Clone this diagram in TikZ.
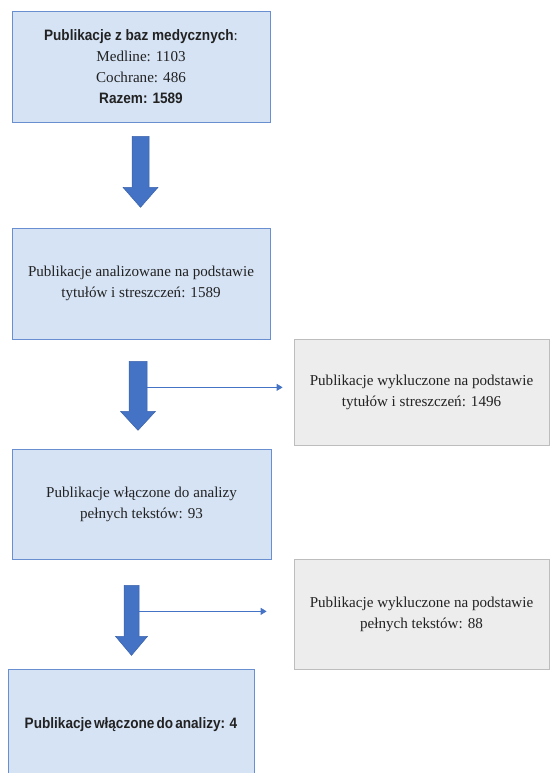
\documentclass[tikz,border=0pt]{standalone}
\usepackage{fontspec}
\setmainfont{Liberation Serif}
\newfontfamily\timesface{Liberation Serif}
\newfontfamily\narrowsans{Liberation Sans}[FakeStretch=0.90]
\usetikzlibrary{arrows.meta,positioning,calc}
\definecolor{stagefill}{HTML}{D5E3F5}
\definecolor{stageedge}{HTML}{6A8FD0}
\definecolor{exclfill}{HTML}{EDEDED}
\definecolor{excledge}{HTML}{BDBDBD}
\definecolor{arrowblue}{HTML}{4472C4}
\definecolor{arrowedge}{HTML}{3B63AA}
\definecolor{textgray}{HTML}{222222}
\tikzset{every picture/.style={line width=0.75pt}}
\tikzset{
    stagebox/.style={draw=stageedge, fill=stagefill, inner sep=0pt, align=center,
        text=textgray, font=\timesface\fontsize{15.1}{21}\selectfont},
    exclbox/.style={stagebox, draw=excledge, fill=exclfill},
    blockarrow/.style={draw=arrowedge, fill=arrowblue, line width=0.5pt},
    thinarrow/.style={draw=arrowblue, line width=0.8pt, -{Triangle[length=6pt,width=7pt]}},
    pics/downarrow/.style n args={4}{code={
        \filldraw[blockarrow] (-#1,0) -- (#1,0) -- (#1,-#3+#4) -- (#2,-#3+#4) -- (0,-#3)
            -- (-#2,-#3+#4) -- (-#1,-#3+#4) -- cycle;
        \coordinate (-side) at (#1,-26);
    }},
}
\newcommand{\boldnarrow}[1]{{\narrowsans\bfseries #1}}

\begin{document}
\begin{tikzpicture}[x=1pt, y=1pt]
    \useasboundingbox (0,0) rectangle (551,773);
    \clip (0,0) rectangle (551,773);
    % main stages
    \node[stagebox, minimum width=258pt, minimum height=111pt] (pub) at (141,706.5)
        {\boldnarrow{Publikacje z baz medycznych}:\\ Medline: 1103\\ Cochrane: 486\\ \boldnarrow{Razem: 1589}};
    \node[stagebox, minimum width=258pt, minimum height=111pt] (screen) at (141,489.5)
        {Publikacje analizowane na podstawie\\ tytułów i streszczeń: 1589};
    \node[stagebox, minimum width=259pt, minimum height=110pt] (full) at (141.5,269)
        {Publikacje włączone do analizy\\ pełnych tekstów: 93};
    \node[stagebox, minimum width=246pt, minimum height=111pt] (final) at (131,48.5)
        {\raisebox{3pt}{\boldnarrow{\spaceskip=0.14em Publikacje włączone do analizy:\hspace{0.3em}4}}};
    % excluded
    \node[exclbox, minimum width=255pt, minimum height=106pt] (excl1) at (421.5,381)
        {Publikacje wykluczone na podstawie\\ tytułów i streszczeń: 1496};
    \node[exclbox, minimum width=255pt, minimum height=110pt] (excl2) at (421.5,159)
        {Publikacje wykluczone na podstawie\\ pełnych tekstów: 88};
    % block arrows
    \pic (arr1) at ($(pub.south)+(-0.5,-14)$) {downarrow={8.5}{17.5}{71}{20}};
    \pic (arr2) at ($(screen.south)+(-3,-22)$) {downarrow={9}{17.5}{69}{19}};
    \pic (arr3) at ($(full.south)+(-10,-26)$) {downarrow={7.5}{16}{70}{19}};
    \draw[thinarrow, shorten >=11pt] (arr2-side) -- (arr2-side -| excl1.west);
    \draw[thinarrow, shorten >=27pt] (arr3-side) -- (arr3-side -| excl2.west);
\end{tikzpicture}
\end{document}
